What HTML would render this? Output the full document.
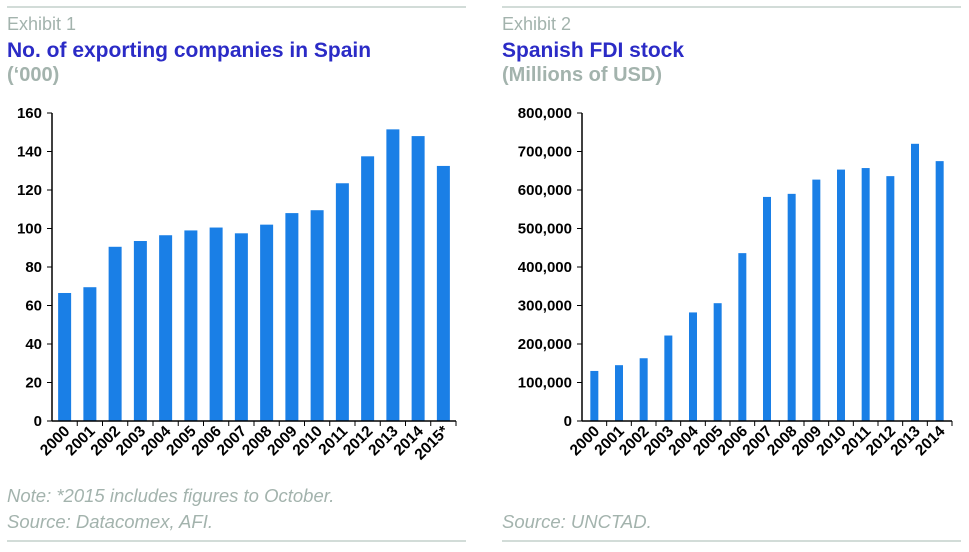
<!DOCTYPE html>
<html><head><style>
body{margin:0;background:#fff;width:969px;height:547px;overflow:hidden}
svg{font-family:"Liberation Sans",sans-serif}
</style></head><body>
<svg width="969" height="547" xmlns="http://www.w3.org/2000/svg">
<g stroke="#c3d0cc" stroke-width="1.5">
<line x1="7" y1="7" x2="466" y2="7"/><line x1="502" y1="7" x2="961" y2="7"/>
<line x1="7" y1="541" x2="466" y2="541"/><line x1="502" y1="541" x2="961" y2="541"/>
</g>
<g font-size="18" fill="#a3b3ad"><text x="7" y="30">Exhibit 1</text><text x="502" y="30">Exhibit 2</text></g>
<g font-size="21" font-weight="bold" fill="#2b2bc6"><text x="7" y="57">No. of exporting companies in Spain</text><text x="502" y="57">Spanish FDI stock</text></g>
<g font-size="20" font-weight="bold" fill="#a3b3ad"><text x="7" y="81">(‘000)</text><text x="502" y="81">(Millions of USD)</text></g>
<g font-size="18.5" font-style="italic" fill="#a3b3ad"><text x="7" y="502">Note: *2015 includes figures to October.</text><text x="7" y="528">Source: Datacomex, AFI.</text><text x="502" y="528">Source: UNCTAD.</text></g>
<g id="c1"></g><g id="c2"></g>
</svg>
<script>
function chart(g,ax,x1,ymax,step,vals,labels,bw,fmt){
 var s='',y0=421,yt=113,n=vals.length,w=(x1-ax)/n;
 for(var i=0;i<n;i++){var h=vals[i]/ymax*(y0-yt);var cx=ax+w*(i+0.5);
  s+='<rect x="'+(cx-bw/2)+'" y="'+(y0-h)+'" width="'+bw+'" height="'+h+'" fill="#1a7fe6"/>';
  s+='<line x1="'+(ax+w*(i+1))+'" y1="'+y0+'" x2="'+(ax+w*(i+1))+'" y2="'+(y0+5)+'" stroke="#000"/>';
  s+='<text transform="translate('+(cx+6)+','+(y0+11)+') rotate(-45)" text-anchor="end" font-size="15.5" font-weight="bold">'+labels[i]+'</text>';}
 for(var v=0;v<=ymax;v+=step){var y=y0-v/ymax*(y0-yt);
  s+='<line x1="'+(ax-5)+'" y1="'+y+'" x2="'+ax+'" y2="'+y+'" stroke="#000"/>';
  s+='<text x="'+(ax-10)+'" y="'+(y+5)+'" text-anchor="end" font-size="15" font-weight="bold">'+fmt(v)+'</text>';}
 s+='<line x1="'+ax+'" y1="'+yt+'" x2="'+ax+'" y2="'+y0+'" stroke="#000" stroke-width="1.5"/>';
 s+='<line x1="'+ax+'" y1="'+y0+'" x2="'+x1+'" y2="'+y0+'" stroke="#000" stroke-width="1.5"/>';
 document.getElementById(g).innerHTML=s;}
var l1=[];for(var i=2000;i<=2015;i++)l1.push(i==2015?'2015*':''+i);
chart('c1',52,456,160,20,[66.5,69.5,90.5,93.5,96.5,99,100.5,97.5,102,108,109.5,123.5,137.5,151.5,148,132.5],l1,13,function(v){return v});
chart('c2',582,952,800000,100000,[130,145,163,222,282,306,436,582,590,627,653,657,636,720,675].map(function(v){return v*1000}),l1.slice(0,15),8,function(v){return v==0?'0':v.toLocaleString('en-US')});
</script>
</body></html>
